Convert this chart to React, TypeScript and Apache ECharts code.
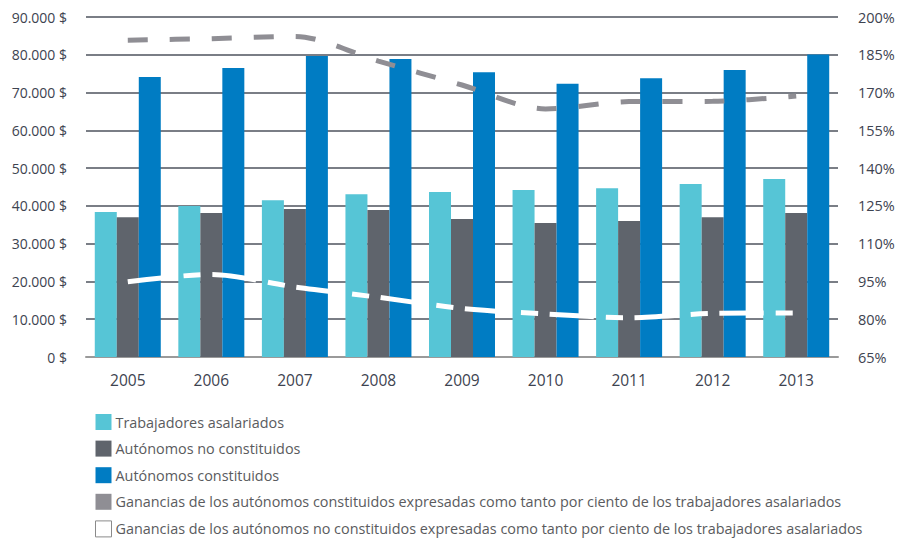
import React, { useEffect, useRef } from "react";
import * as echarts from "echarts";

const years = ["2005", "2006", "2007", "2008", "2009", "2010", "2011", "2012", "2013"];
const asalariados = [38400, 40000, 41500, 43100, 43700, 44200, 44700, 45800, 47100];
const noConstituidos = [37000, 38100, 39200, 38900, 36500, 35500, 36000, 37000, 38100];
const constituidos = [74100, 76500, 79700, 78900, 75400, 72300, 73800, 76000, 80100];
const pctConstituidos = [190.8, 191.4, 192.3, 182.5, 173.0, 163.5, 166.4, 166.5, 168.6];
const pctNoConstituidos = [94.9, 97.8, 92.8, 88.7, 84.3, 82.1, 80.6, 82.3, 82.5];
const pctTicks = [65, 80, 95, 110, 125, 140, 155, 170, 185, 200];

const names = [
  "Trabajadores asalariados",
  "Autónomos no constituidos",
  "Autónomos constituidos",
  "Ganancias de los autónomos constituidos expresadas como tanto por ciento de los trabajadores asalariados",
  "Ganancias de los autónomos no constituidos expresadas como tanto por ciento de los trabajadores asalariados",
];

const C_LIGHT = "#56c5d6";
const C_DARK = "#5f646c";
const C_BLUE = "#007cc3";
const C_GREYLINE = "#8f8e94";
const FONT = "'Open Sans', 'Noto Sans', sans-serif";

function fmtMoney(v: number) {
  const s = Math.round(v).toString().replace(/\B(?=(\d{3})+(?!\d))/g, ".");
  return s + " $";
}

export default function App() {
  const ref = useRef<HTMLDivElement>(null);
  useEffect(() => {
    if (!ref.current) return;
    const chart = echarts.init(ref.current, undefined, { renderer: "svg" });
    chart.setOption({
      animation: false,
      backgroundColor: "#ffffff",
      textStyle: { fontFamily: FONT },
      grid: { left: 86, right: 61, top: 17, bottom: 181, containLabel: false },
      legend: {
        orient: "vertical",
        left: 95,
        top: 414,
        height: 124,
        padding: 0,
        icon: "rect",
        itemWidth: 16,
        itemHeight: 16,
        itemGap: 10.6,
        selectedMode: false,
        textStyle: { fontFamily: FONT, fontSize: 14.4, lineHeight: 16, color: "#5a5b5e", padding: [0, 0, 0, -1] },
        data: [
          { name: names[0], itemStyle: { color: C_LIGHT, borderWidth: 0 } },
          { name: names[1], itemStyle: { color: C_DARK, borderWidth: 0 } },
          { name: names[2], itemStyle: { color: C_BLUE, borderWidth: 0 } },
          { name: names[3], itemStyle: { color: C_GREYLINE, borderWidth: 0 } },
          { name: names[4], itemStyle: { color: "#ffffff", borderColor: "#8a8a8a", borderWidth: 1 } },
        ],
      },
      xAxis: {
        type: "category",
        data: years,
        axisLine: { show: true, lineStyle: { color: "#9a9a9a", width: 2 } },
        axisTick: { show: false },
        axisLabel: { fontFamily: FONT, fontSize: 15.5, color: "#3d4350", margin: 15 },
      },
      yAxis: [
        {
          type: "value",
          min: 0,
          max: 90000,
          interval: 10000,
          axisLine: { show: false },
          axisTick: { show: false },
          axisLabel: { fontFamily: FONT, fontSize: 14, color: "#3d4350", margin: 19, formatter: (v: number) => fmtMoney(v) },
          splitLine: { show: true, lineStyle: { color: "#4e535e", width: 1.6 } },
        },
        {
          type: "value",
          min: 65,
          max: 200,
          position: "right",
          axisLine: { show: false },
          axisTick: { show: false },
          splitLine: { show: false },
          axisLabel: {
            fontFamily: FONT,
            fontSize: 14.5,
            color: "#3d4350",
            margin: 20,
            customValues: pctTicks,
            formatter: (v: number) => Math.round(v) + "%",
          },
        },
      ],
      series: [
        { name: names[0], type: "bar", data: asalariados, barWidth: 22, barGap: "0%", itemStyle: { color: C_LIGHT } },
        { name: names[1], type: "bar", data: noConstituidos, barWidth: 22, barGap: "0%", itemStyle: { color: C_DARK } },
        { name: names[2], type: "bar", data: constituidos, barWidth: 22, barGap: "0%", itemStyle: { color: C_BLUE } },
        {
          name: names[3],
          type: "line",
          yAxisIndex: 1,
          data: pctConstituidos,
          smooth: 0.3,
          symbol: "none",
          itemStyle: { color: C_GREYLINE },
          lineStyle: { color: C_GREYLINE, width: 5, type: [20, 22] },
          z: 5,
        },
        {
          name: names[4],
          type: "line",
          yAxisIndex: 1,
          data: pctNoConstituidos,
          smooth: 0.3,
          symbol: "none",
          itemStyle: { color: "#ffffff" },
          lineStyle: { color: "#ffffff", width: 5, type: [44, 12, 17, 12] },
          z: 5,
        },
      ],
    });
    return () => chart.dispose();
  }, []);
  return (
    <div
      ref={ref}
      style={{ position: "fixed", left: 0, top: 0, width: 899, height: 538, background: "#fff" }}
    />
  );
}
